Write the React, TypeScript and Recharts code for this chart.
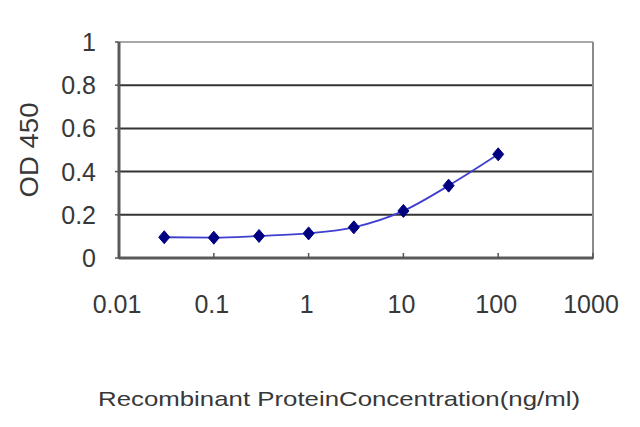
import React from 'react';
import { LineChart, Line, XAxis, YAxis, CartesianGrid, ReferenceLine } from 'recharts';

const concentrations = [0.03, 0.1, 0.3, 1, 3, 10, 30, 100];
const odValues = [0.096, 0.094, 0.102, 0.114, 0.142, 0.218, 0.335, 0.48];
const xTicks = [0.01, 0.1, 1, 10, 100, 1000];
const xTickLabels = ['0.01', '0.1', '1', '10', '100', '1000'];
const yTicks = [0, 0.2, 0.4, 0.6, 0.8, 1];
const yTickLabels = ['0', '0.2', '0.4', '0.6', '0.8', '1'];
const xTitle = 'Recombinant ProteinConcentration(ng/ml)';
const yTitle = 'OD 450';

const data = concentrations.map((c, i) => ({ x: c, y: odValues[i] }));

const FONT = '"Liberation Sans", Arial, sans-serif';
const TEXT = '#383838';

const XTick = (props: any) => {
  const { x, y, payload } = props;
  const idx = xTicks.indexOf(payload.value);
  const label = idx >= 0 ? xTickLabels[idx] : String(payload.value);
  return (
    <g>
      <line x1={x} x2={x} y1={y - 5} y2={y + 1} stroke="#555" strokeWidth={1.5} />
      <text x={x - 2} y={y + 55} textAnchor="middle" fontSize={25} fontFamily={FONT} fill={TEXT}>
        {label}
      </text>
    </g>
  );
};

const YTick = (props: any) => {
  const { x, y, payload } = props;
  const idx = yTicks.indexOf(payload.value);
  const label = idx >= 0 ? yTickLabels[idx] : String(payload.value);
  return (
    <g>
      <line x1={x - 4} x2={x} y1={y} y2={y} stroke="#555" strokeWidth={1.5} />
      <text x={x - 23} y={y + 9} textAnchor="end" fontSize={25} fontFamily={FONT} fill={TEXT}>
        {label}
      </text>
    </g>
  );
};

const Diamond = (props: any) => {
  const { cx, cy } = props;
  if (cx == null || cy == null) return null;
  const w = 5.5;
  const h = 6.5;
  return (
    <polygon
      points={`${cx},${cy - h} ${cx + w},${cy} ${cx},${cy + h} ${cx - w},${cy}`}
      fill="#000080"
      stroke="#000080"
      strokeWidth={1}
    />
  );
};

const XTitle = () => (
  <text
    x={339}
    y={406}
    textAnchor="middle"
    fontSize={21}
    fontFamily={FONT}
    fill={TEXT}
    textLength={482}
    lengthAdjust="spacingAndGlyphs"
  >
    {xTitle}
  </text>
);

const YTitle = () => {
  const cx = 38;
  const cy = 150;
  return (
    <text
      x={cx}
      y={cy}
      transform={`rotate(-90, ${cx}, ${cy})`}
      textAnchor="middle"
      fontSize={25}
      fontFamily={FONT}
      fill={TEXT}
      textLength={95}
      lengthAdjust="spacingAndGlyphs"
    >
      {yTitle}
    </text>
  );
};

export default function App() {
  return (
    <div style={{ position: 'absolute', left: 0, top: 0, width: 640, height: 427, background: '#fff' }}>
      <LineChart
        width={640}
        height={427}
        data={data}
        margin={{ top: 42, right: 47, left: 0, bottom: 0 }}
      >
        <CartesianGrid horizontal vertical={false} stroke="#333" strokeWidth={2} />
        <XAxis
          dataKey="x"
          type="number"
          scale="log"
          domain={[0.01, 1000]}
          ticks={xTicks}
          allowDataOverflow
          height={169}
          tickSize={0}
          tickMargin={0}
          tickLine={false}
          axisLine={{ stroke: '#5a5a5a', strokeWidth: 3 }}
          tick={<XTick />}
          interval={0}
          label={<XTitle />}
        />
        <YAxis
          type="number"
          domain={[0, 1]}
          ticks={yTicks}
          width={119}
          tickSize={0}
          tickMargin={0}
          tickLine={false}
          axisLine={{ stroke: '#5a5a5a', strokeWidth: 3 }}
          tick={<YTick />}
          interval={0}
          label={<YTitle />}
        />
        <ReferenceLine y={1} stroke="#a8a8a8" strokeWidth={2} />
        <ReferenceLine x={1000} stroke="#8a8a8a" strokeWidth={2} />
        <Line
          type="monotone"
          dataKey="y"
          stroke="#4040d0"
          strokeWidth={1.8}
          dot={<Diamond />}
          activeDot={false}
          isAnimationActive={false}
        />
      </LineChart>
    </div>
  );
}
